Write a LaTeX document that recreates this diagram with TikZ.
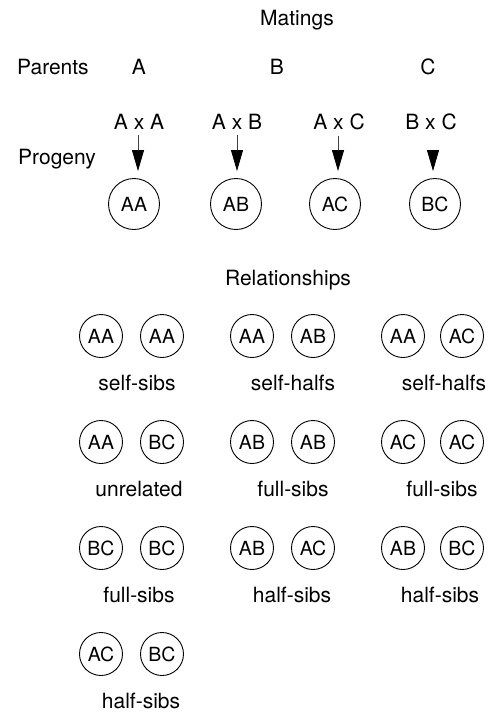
\documentclass[tikz,border=0pt]{standalone}
\usepackage{fontspec}
\setmainfont{TeX Gyre Heros}
\usetikzlibrary{arrows.meta}
\begin{document}
\begin{tikzpicture}[x=1pt,y=-1pt,
  lbl/.style={inner sep=0pt, anchor=base, font=\fontsize{21}{24}\selectfont},
  geno/.style={circle, draw, line width=0.9pt, minimum size=43pt, inner sep=0pt,
    font=\fontsize{19.5}{22}\selectfont},
  progeno/.style={geno, minimum size=51pt},
  cross/.style={draw=black!75, line width=0.8pt, shorten <=5.5pt, shorten >=7pt,
    -{Triangle[length=21pt,width=12pt,black]}}]
\useasboundingbox (0,0) rectangle (491,721);

% headings
\node[lbl] (matings) at (297,25.5) {Matings};
\node[lbl, anchor=base west] (parents) at (17,74.5) {Parents};
\node[lbl] (parA) at (139,74.5) {A};
\node[lbl] (parB) at (277,74.5) {B};
\node[lbl] (parC) at (428,74.5) {C};

% crosses
\node[lbl] (xAA) at (139,129.5) {A x A};
\node[lbl] (xAB) at (237,129.5) {A x B};
\node[lbl] (xAC) at (339,129.5) {A x C};
\node[lbl] (xBC) at (431,129.5) {B x C};
\node[lbl, anchor=base west] (progeny) at (18,164.5) {Progeny};

% progeny
\node[progeno] (pAA) at (134,204) {AA};
\node[progeno] (pAB) at (236,204) {AB};
\node[progeno] (pAC) at (335,204) {AC};
\node[progeno] (pBC) at (435,204) {BC};

\draw[cross] (xAA.south -| 138,0) -- (138,0 |- pAA.north);
\draw[cross] (xAB.south -| 237,0) -- (237,0 |- pAB.north);
\draw[cross] (xAC.south -| 338,0) -- (338,0 |- pAC.north);
\coordinate (bcstart) at (433,145);
\draw[cross] (bcstart) -- (433,0 |- pBC.north);

% relationships
\node[lbl] (rel) at (288,285.5) {Relationships};

% row 1
\node[geno] (r1a) at (101,336) {AA};
\node[geno] (r1b) at (162,336) {AA};
\node[lbl] (l1a) at (137,390) {self-sibs};
\node[geno] (r1c) at (252,336) {AA};
\node[geno] (r1d) at (313,336) {AB};
\node[lbl] (l1b) at (293,390) {self-halfs};
\node[geno] (r1e) at (403,336) {AA};
\node[geno] (r1f) at (462,336) {AC};
\node[lbl] (l1c) at (444,390) {self-halfs};

% row 2
\node[geno] (r2a) at (101,442) {AA};
\node[geno] (r2b) at (162,442) {BC};
\node[lbl] (l2a) at (139,496) {unrelated};
\node[geno] (r2c) at (252,442) {AB};
\node[geno] (r2d) at (313,442) {AB};
\node[lbl] (l2b) at (293,496) {full-sibs};
\node[geno] (r2e) at (403,442) {AC};
\node[geno] (r2f) at (462,442) {AC};
\node[lbl] (l2c) at (442,496) {full-sibs};

% row 3
\node[geno] (r3a) at (101,548) {BC};
\node[geno] (r3b) at (162,548) {BC};
\node[lbl] (l3a) at (139,602) {full-sibs};
\node[geno] (r3c) at (252,548) {AB};
\node[geno] (r3d) at (313,548) {AC};
\node[lbl] (l3b) at (292,602) {half-sibs};
\node[geno] (r3e) at (403,548) {AB};
\node[geno] (r3f) at (462,548) {BC};
\node[lbl] (l3c) at (440,602) {half-sibs};

% row 4
\node[geno] (r4a) at (101,654) {AC};
\node[geno] (r4b) at (162,654) {BC};
\node[lbl] (l4a) at (141,708) {half-sibs};
\end{tikzpicture}
\end{document}
